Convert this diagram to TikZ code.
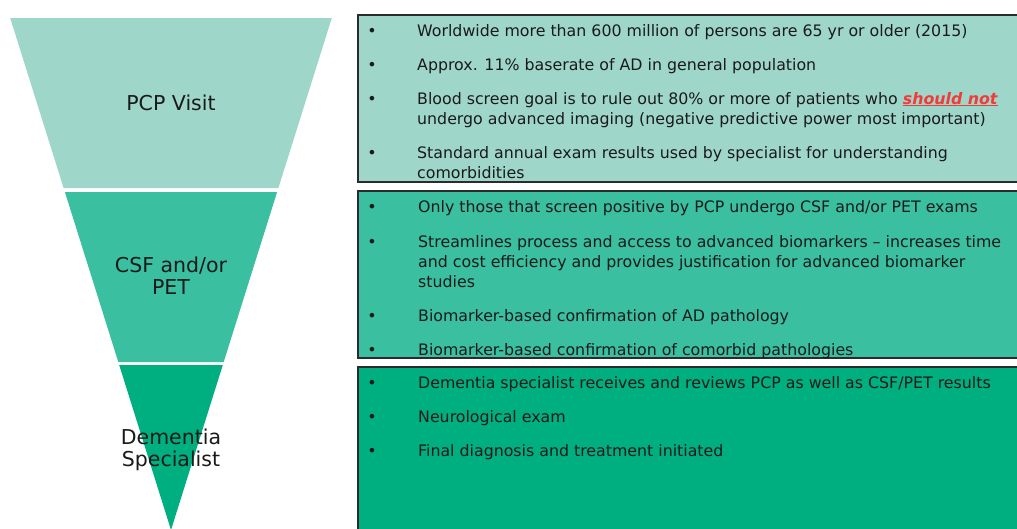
\documentclass[tikz,border=0pt]{standalone}
\usepackage{fontspec}
\setmainfont{DejaVu Sans}
\definecolor{cA}{HTML}{9ED7C9}
\definecolor{cB}{HTML}{3ABFA0}
\definecolor{cC}{HTML}{00AF80}
\definecolor{redc}{HTML}{F23A3A}
\definecolor{bordc}{HTML}{2B2B2B}
\definecolor{textc}{HTML}{1A1A1A}
\tikzset{
  seg/.style={draw=none},
  infobox/.style={draw=bordc, line width=1.4pt},
  lbl/.style={inner sep=0, align=center, text=textc, font=\fontsize{20.5}{22}\selectfont},
  bul/.style={anchor=base, inner sep=0, text=textc, font=\fontsize{15.8}{20}\selectfont},
  txt/.style={anchor=base west, inner sep=0, align=left, text=textc, font=\fontsize{15.8}{20}\selectfont},
}
\begin{document}
\begin{tikzpicture}[x=1pt,y=-1pt]
\useasboundingbox (0,0) rectangle (1017,528);
% funnel
\fill[cA] (10.2,18) -- (331.8,18) -- (278.4,188) -- (63.6,188) -- cycle;
\fill[cB] (64.9,192) -- (277.1,192) -- (223.7,362) -- (118.3,362) -- cycle;
\fill[cC] (119.2,365) -- (222.8,365) -- (171,530) -- cycle;
\node[lbl] (l1) at (171,102.5) {PCP Visit};
\node[lbl] (l2) at (171,276) {CSF and/or\\PET};
\node[lbl] (l3) at (171,450) {Dementia\\Specialist};
% boxes
\draw[infobox, fill=cA] (358,15) rectangle (1040,182);
\draw[infobox, fill=cB] (358,191) rectangle (1040,358);
\draw[infobox, fill=cC] (358,367) rectangle (1040,545);
% box 1 (multi-line nodes are placed at the baseline of their last line)
\node[bul] (b11) at (372,36) {\textbullet};
\node[txt] (t11) at (417,36) {Worldwide more than 600 million of persons are 65 yr or older (2015)};
\node[bul] (b12) at (372,70) {\textbullet};
\node[txt] (t12) at (417,70) {Approx. 11\% baserate of AD in general population};
\node[bul] (b13) at (372,104) {\textbullet};
\node[txt] (t13) at (417,124) {Blood screen goal is to rule out 80\% or more of patients who \textcolor{redc}{\underline{\textbf{\textit{should not}}}}\\undergo advanced imaging (negative predictive power most important)};
\node[bul] (b14) at (372,158) {\textbullet};
\node[txt] (t14) at (417,178) {Standard annual exam results used by specialist for understanding\\comorbidities};
% box 2
\node[bul] (b21) at (372,212) {\textbullet};
\node[txt] (t21) at (418,212) {Only those that screen positive by PCP undergo CSF and/or PET exams};
\node[bul] (b22) at (372,247) {\textbullet};
\node[txt] (t22) at (418,287) {Streamlines process and access to advanced biomarkers -- increases time\\and cost efficiency and provides justification for advanced biomarker\\studies};
\node[bul] (b23) at (372,321) {\textbullet};
\node[txt] (t23) at (418,321) {Biomarker-based confirmation of AD pathology};
\node[bul] (b24) at (372,355) {\textbullet};
\node[txt] (t24) at (418,355) {Biomarker-based confirmation of comorbid pathologies};
% box 3
\node[bul] (b31) at (372,388) {\textbullet};
\node[txt] (t31) at (418,388) {Dementia specialist receives and reviews PCP as well as CSF/PET results};
\node[bul] (b32) at (372,422) {\textbullet};
\node[txt] (t32) at (418,422) {Neurological exam};
\node[bul] (b33) at (372,456) {\textbullet};
\node[txt] (t33) at (418,456) {Final diagnosis and treatment initiated};
\end{tikzpicture}
\end{document}
